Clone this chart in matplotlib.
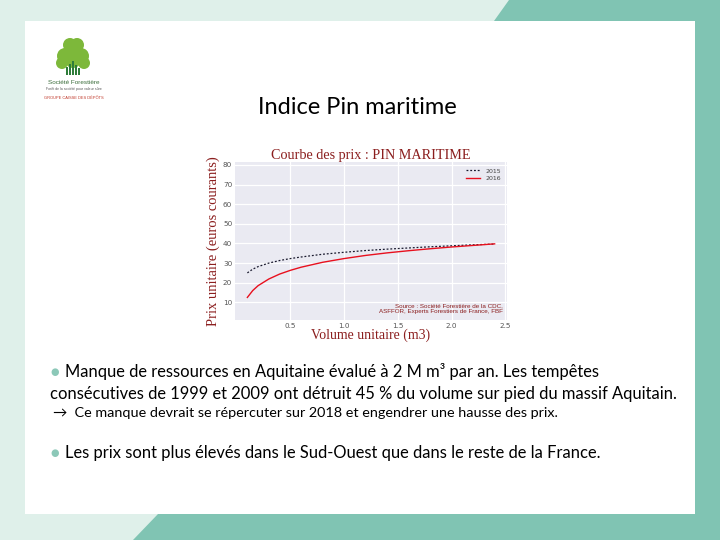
import matplotlib
matplotlib.use("Agg")
import matplotlib.pyplot as plt
from matplotlib.patches import Polygon, Rectangle, Circle

# ---- data ----
vol_2015 = [0.1, 0.15, 0.2, 0.3, 0.4, 0.5, 0.6, 0.8, 1.0, 1.2, 1.4, 1.6, 1.8, 2.0, 2.2, 2.4]
prix_2015 = [25.0, 26.9, 28.2, 30.0, 31.3, 32.3, 33.1, 34.5, 35.5, 36.4, 37.1, 37.7, 38.3, 38.8, 39.3, 39.7]
vol_2016 = [0.1, 0.15, 0.2, 0.3, 0.4, 0.5, 0.6, 0.8, 1.0, 1.2, 1.4, 1.6, 1.8, 2.0, 2.2, 2.4]
prix_2016 = [12.5, 16.0, 18.5, 21.9, 24.4, 26.3, 27.9, 30.4, 32.3, 33.9, 35.2, 36.3, 37.3, 38.2, 39.0, 39.8]
series_labels = ["2015", "2016"]
xticks = [0.5, 1.0, 1.5, 2.0, 2.5]
yticks = [10, 20, 30, 40, 50, 60, 70, 80]

W, H = 720, 540
fig = plt.figure(figsize=(7.2, 5.4), dpi=100)
fig.patch.set_facecolor("#DFF0EA")

bg = fig.add_axes([0, 0, 1, 1])
bg.set_xlim(0, W)
bg.set_ylim(H, 0)
bg.axis("off")

teal = "#80C4B3"
bg.add_patch(Polygon([(509, 0), (720, 0), (720, 21), (494, 21)], closed=True, fc=teal, ec="none"))
bg.add_patch(Rectangle((695, 0), 25, 540, fc=teal, ec="none"))
bg.add_patch(Polygon([(158, 514), (720, 514), (720, 540), (133, 540)], closed=True, fc=teal, ec="none"))
bg.add_patch(Rectangle((25, 21), 670, 493, fc="white", ec="none"))

# ---- logo ----
g = "#7DB83A"
for (cx, cy, r) in [(73, 50, 9), (65, 56, 8), (81, 56, 8), (70, 45, 7), (77, 45, 7), (73, 60, 8), (62, 63, 6), (84, 63, 6)]:
    bg.add_patch(Circle((cx, cy), r, fc=g, ec="none"))
for i, hgt in enumerate([8, 11, 14, 10, 7]):
    bg.add_patch(Rectangle((66 + i * 3, 75 - hgt), 2, hgt, fc="#2E7D3A", ec="none"))
bg.text(74, 82, "Société Forestière", ha="center", va="center", fontsize=4.6,
        color="#3C6E3C", family="Liberation Sans")
bg.text(74, 89, "Forêt de la société pour valeur sûre", ha="center", va="center",
        fontsize=2.5, color="#555555", family="Liberation Sans")
bg.text(74, 98, "GROUPE CAISSE DES DÉPÔTS", ha="center", va="center", fontsize=2.9,
        color="#C0392B", family="Liberation Sans")

# ---- slide title ----
bg.text(357, 108, "Indice Pin maritime", ha="center", va="center", fontsize=17,
        color="black", family="Lato")

# ---- bullet text ----
bullet_c = "#8CC8B8"
txt_font = "Lato"
bg.text(50, 372, "●", ha="left", va="center", fontsize=7, color=bullet_c)
bg.text(65, 372, "Manque de ressources en Aquitaine évalué à 2 M m³ par an. Les tempêtes",
        ha="left", va="center", fontsize=11.9, color="black", family=txt_font)
bg.text(50, 394, "consécutives de 1999 et 2009 ont détruit 45 % du volume sur pied du massif Aquitain.",
        ha="left", va="center", fontsize=11.9, color="black", family=txt_font)
bg.text(53, 413, "→  Ce manque devrait se répercuter sur 2018 et engendrer une hausse des prix.",
        ha="left", va="center", fontsize=10.4, color="black", family=[txt_font, "DejaVu Sans"])
bg.text(50, 453, "●", ha="left", va="center", fontsize=7, color=bullet_c)
bg.text(65, 453, "Les prix sont plus élevés dans le Sud-Ouest que dans le reste de la France.",
        ha="left", va="center", fontsize=11.9, color="black", family=txt_font)

# ---- chart ----
L, R, T, B = 235, 507, 162, 320
ax = fig.add_axes([L / W, 1 - B / H, (R - L) / W, (B - T) / H])
ax.set_facecolor("#EAEAF2")
for s in ax.spines.values():
    s.set_visible(False)
ax.grid(True, color="white", linewidth=0.9)
ax.set_axisbelow(True)

ax.plot(vol_2015, prix_2015, linestyle=(0, (1.5, 1.5)), color="#1a1a2e", linewidth=0.9,
        label=series_labels[0])
ax.plot(vol_2016, prix_2016, linestyle="-", color="#E8101E", linewidth=1.0,
        label=series_labels[1])

ax.set_xlim(-0.015, 2.515)
ax.set_ylim(1, 81.5)
ax.set_xticks(xticks)
ax.set_yticks(yticks)
ax.tick_params(length=0, labelsize=5.2, labelcolor="#555555", pad=2)

dark_red = "#8B1E1E"
ax.set_title("Courbe des prix : PIN MARITIME", family="Liberation Serif", fontsize=10.2,
             color=dark_red, pad=2)
ax.set_ylabel("Prix unitaire (euros courants)", family="Liberation Serif", fontsize=10.5,
              color=dark_red)
ax.yaxis.set_label_coords(-(L - 220) / (R - L), 0.5)
ax.set_xlabel("Volume unitaire (m3)", family="Liberation Serif", fontsize=10,
              color=dark_red, labelpad=0)

leg = ax.legend(loc="upper right", frameon=False, fontsize=4.5, handlelength=2.2,
                labelspacing=0.4, borderaxespad=0.6)
for t in leg.get_texts():
    t.set_color("#444444")

ax.text(0.985, 0.035, "Source : Société Forestière de la CDC,\nASFFOR, Experts Forestiers de France, FBF",
        transform=ax.transAxes, ha="right", va="bottom", fontsize=4.5, color=dark_red,
        family="Liberation Sans", linespacing=1.3)

fig.savefig("out.png", dpi=100, facecolor=fig.get_facecolor())
